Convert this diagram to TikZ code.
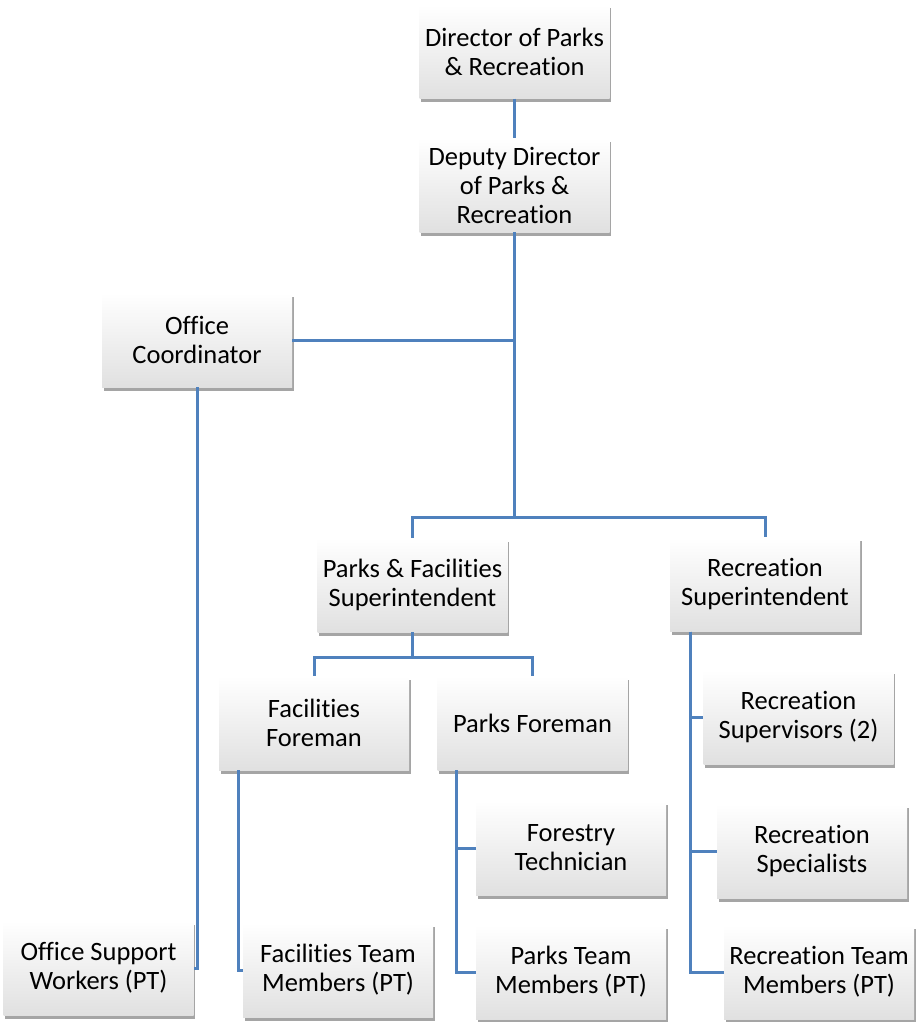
\documentclass[tikz,border=0pt]{standalone}
\usepackage{fontspec}
\setmainfont{Carlito}[RawFeature={-liga;-dlig;-clig;-calt;-hlig}]
\usetikzlibrary{shadows}
\definecolor{linkblue}{RGB}{79,129,189}
\tikzset{
  orgbox/.style={rectangle, minimum width=190pt, minimum height=94pt, inner sep=0pt,
    align=center, font=\fontsize{26.5}{29}\selectfont,
    top color=white, bottom color=black!12,
    drop shadow={shadow xshift=1.5pt, shadow yshift=-3.5pt, opacity=0.5, fill=black!70}},
  conn/.style={draw=linkblue, line width=3pt}
}
\begin{document}
\begin{tikzpicture}[x=1pt,y=-1pt]
\useasboundingbox (0,0) rectangle (915,1022);
\node[orgbox] (dir) at (514.5,51.5) {Director of Parks\\\& Recreation};
\node[orgbox] (dep) at (514.5,185) {Deputy Director\\of Parks \&\\Recreation};
\node[orgbox] (oc) at (197,340) {Office\\Coordinator};
\node[orgbox] (pfs) at (412.5,585) {Parks \& Facilities\\Superintendent};
\node[orgbox] (rs) at (765,584.5) {Recreation\\Superintendent};
\node[orgbox] (ff) at (314,723) {Facilities\\Foreman};
\node[orgbox] (pf) at (532.5,723) {Parks Foreman};
\node[orgbox] (rsv) at (798.5,717) {Recreation\\Supervisors (2)};
\node[orgbox] (ft) at (571,848) {Forestry\\Technician};
\node[orgbox] (rsp) at (812,851) {Recreation\\Specialists};
\node[orgbox] (osw) at (98.5,968) {Office Support\\Workers (PT)};
\node[orgbox] (ftm) at (338,970) {Facilities Team\\Members (PT)};
\node[orgbox] (ptm) at (571,972) {Parks Team\\Members (PT)};
\node[orgbox] (rtm) at (819,972) {Recreation Team\\Members (PT)};
\coordinate (j1) at (514.5,517);
\coordinate (j2) at (412.5,657);
\draw[conn] (dir.south) -- (dep.north);
\draw[conn] (dep.south) -- (j1);
\draw[conn] (oc.east) -- (oc.east -| j1);
\draw[conn] (pfs.north) |- (j1) -| (rs.north);
\draw[conn] (pfs.south) -- (j2);
\draw[conn] (ff.north) |- (j2) -| (pf.north);
\draw[conn] (oc.south) |- (osw.east);
\draw[conn] ([xshift=20pt]ff.south west) |- (ftm.west);
\draw[conn] ([xshift=19pt]pf.south west) |- (ft.west);
\draw[conn] ([xshift=19pt]pf.south west) |- (ptm.west);
\draw[conn] ([xshift=21pt]rs.south west) |- (rsv.west);
\draw[conn] ([xshift=21pt]rs.south west) |- (rsp.west);
\draw[conn] ([xshift=21pt]rs.south west) |- (rtm.west);
\end{tikzpicture}
\end{document}
